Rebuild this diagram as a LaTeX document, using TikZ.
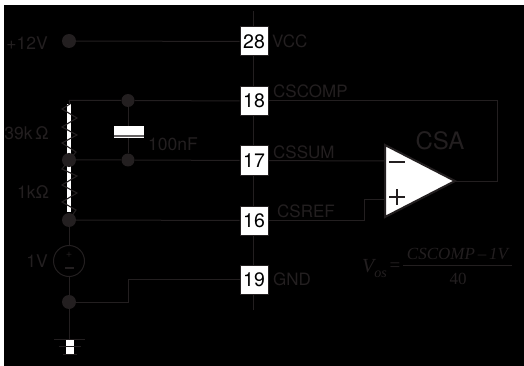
\documentclass[tikz,border=0pt]{standalone}
\usepackage{fontspec}
\setmainfont{TeX Gyre Heros}
\newfontfamily\timesf{Liberation Serif}
\definecolor{ink}{HTML}{231F20}
\tikzset{
 wire/.style={draw=ink,line width=1pt},
 dotn/.style={circle,fill=ink,inner sep=0pt,minimum size=14pt},
 smalldot/.style={circle,fill=ink,inner sep=0pt,minimum size=13pt},
 pin/.style={rectangle,draw=ink,line width=1pt,fill=white,minimum width=28pt,minimum height=29pt,inner sep=0pt,font=\fontsize{19.5}{20}\selectfont,text=black},
 lbl/.style={text=ink,inner sep=0pt,font=\fontsize{17.5}{18}\selectfont},
 sig/.style={text=ink,inner sep=0pt,font=\fontsize{17}{17}\selectfont,anchor=west},
}
\begin{document}
\begin{tikzpicture}[x=1pt,y=-1pt]
\useasboundingbox (0,0) rectangle (524,366);
\fill[white] (0,0) rectangle (524,366);
\fill[black] (4,5) rectangle (524,366);
% spine
\coordinate (top) at (253,11);
\coordinate (bot) at (253,310);
\draw[wire] (top) -- (bot);
% resistor backing
\fill[white] (67,104) rectangle (71,212);
% nodes
\node[dotn] (vin) at (69,41) {};
\node[dotn] (rtap) at (69,160) {};
\node[dotn] (rlow) at (69,220) {};
\node[dotn] (gndn) at (69,302) {};
\node[smalldot] (ctop) at (128,100.5) {};
\node[smalldot] (cbot) at (128,160) {};
\coordinate (rtop) at (69,100.5);
% pins
\node[pin] (p28) at (254,41.5) {28};
\node[pin] (p18) at (254,101) {18};
\node[pin] (p17) at (254,160.5) {17};
\node[pin] (p16) at (254,220.5) {16};
\node[pin] (p19) at (254,280) {19};
% wires
\draw[wire] (vin) -- (p28);
\draw[wire] (rtop) -- (ctop) -- (p18);
\draw[wire] (rtap) -- (cbot) -- (p17);
\draw[wire] (rlow) -- (p16);
\draw[wire] (ctop) -- (cbot);
% capacitor
\fill[white] (114,126) rectangle (144,135);
\fill[ink!70!white] (114,135) rectangle (144,137);
\fill[white] (114,137) rectangle (144,138);
% resistors
\draw[wire,line width=1.1pt] (rtop) -- (70,104) -- (62,109) -- (77,118) -- (62,127) -- (77,135) -- (62,143) -- (76,152) -- (rtap.center);
\draw[wire,line width=1.1pt] (rtap.center) -- (62,169) -- (77,176) -- (62,185) -- (77,193) -- (62,202) -- (76,210) -- (rlow.center);
% source
\node[circle,draw=ink,line width=1pt,minimum size=31pt,inner sep=0pt] (src) at (69,261) {};
\node[text=ink,inner sep=0pt,font=\fontsize{11}{11}\selectfont] (srcp) at (69,254.5) {+};
\draw[ink,line width=1.5pt] (65,268) -- (74,268);
\draw[wire] (rlow) -- (src);
\draw[wire] (src) -- (gndn);
\coordinate (g1) at (128,302);
\coordinate (g2) at (128,279.5);
\draw[wire] (gndn) -- (g1) -- (g2) -- (p19.west |- g2);
% ground
\coordinate (gt) at (69,339);
\draw[wire] (gndn) -- (gt);
\fill[white] (66,340) rectangle (74,354);
\draw[wire] (54,339) -- (85,339);
\draw[wire] (59,346.5) -- (81,346.5);
\draw[wire] (63,354) -- (77,354);
% opamp
\coordinate (oa) at (385,145);
\coordinate (ob) at (385,217);
\coordinate (oc) at (455,181);
\coordinate (o1) at (497,181);
\coordinate (o2) at (497,101);
\coordinate (ref1) at (364,220.5);
\coordinate (ref2) at (364,199);
\coordinate (refi) at (385,199);
\coordinate (sumi) at (385,161);
\draw[wire] (oc) -- (o1) -- (o2) -- (p18);
\draw[wire] (p17) -- (sumi);
\draw[wire] (p16) -- (ref1) -- (ref2) -- (refi);
\draw[draw=ink,fill=white,line width=2pt,line join=miter] (oa) -- (ob) -- (oc) -- cycle;
\draw[ink,line width=1.3pt] (389,162) -- (405,162);
\draw[ink,line width=1.3pt] (389,197) -- (405,197) (397,189) -- (397,205);
% labels
\node[lbl,anchor=east] (l12) at (48,43.5) {+12V};
\node[lbl,anchor=east] (l39) at (49,133) {39k\,Ω};
\node[lbl,anchor=west] (l100) at (148,144) {100nF};
\node[lbl,anchor=east] (l1k) at (49,192) {1kΩ};
\node[lbl,anchor=east] (l1v) at (48,261) {1V};
\node[sig] (lvcc) at (272,41) {VCC};
\node[sig] (lcomp) at (273,91) {CSCOMP};
\node[sig] (lsum) at (273,152) {CSSUM};
\node[sig] (lref) at (277,211) {CSREF};
\node[sig] (lgnd) at (273,279.5) {GND};
\node[text=ink,inner sep=0pt,font=\fontsize{24}{24}\selectfont] (lcsa) at (440,141) {CSA};
% formula
\draw[ink,line width=0.8pt] (403,265) -- (512,265);
\node[text=ink,inner sep=0pt,anchor=base,font=\timesf\itshape\fontsize{17}{17}\selectfont] (fnum) at (457.5,259) {CSCOMP\,–\,1V};
\node[text=ink,inner sep=0pt,anchor=base,font=\timesf\fontsize{17}{17}\selectfont] (fden) at (458,284) {40};
\node[text=ink,inner sep=0pt,anchor=base west,font=\timesf\itshape\fontsize{20}{20}\selectfont] (fv) at (362,272.5) {V\raisebox{-4.5pt}{\fontsize{14}{14}\selectfont os}};
\node[text=ink,inner sep=0pt,anchor=base west,font=\timesf\fontsize{19}{19}\selectfont] (feq) at (389.5,271.5) {=};
\end{tikzpicture}
\end{document}
